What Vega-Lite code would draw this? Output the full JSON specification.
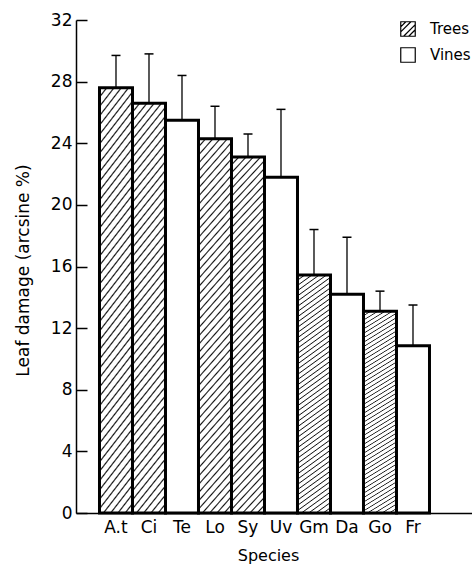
{
  "$schema": "https://vega.github.io/schema/vega-lite/v6.json",
  "width": 396,
  "height": 493,
  "autosize": {"type": "none"},
  "padding": {"left": 76, "top": 20, "right": 0, "bottom": 52},
  "background": "white",
  "config": {
    "view": {"stroke": null},
    "font": "DejaVu Sans",
    "axis": {
      "domainColor": "#000",
      "domainWidth": 1.5,
      "tickColor": "#000",
      "tickWidth": 1.5,
      "labelColor": "#000",
      "labelFont": "DejaVu Sans",
      "labelFontSize": 17,
      "titleColor": "#000",
      "titleFont": "DejaVu Sans",
      "titleFontSize": 17,
      "titleFontWeight": "normal",
      "grid": false
    },
    "legend": {"labelFont": "DejaVu Sans"}
  },
  "data": {
    "values": [
      {"species": "A.t", "type": "Trees", "value": 27.6, "upper": 29.7},
      {"species": "Ci", "type": "Trees", "value": 26.6, "upper": 29.8},
      {"species": "Te", "type": "Vines", "value": 25.5, "upper": 28.4},
      {"species": "Lo", "type": "Trees", "value": 24.3, "upper": 26.4},
      {"species": "Sy", "type": "Trees", "value": 23.1, "upper": 24.6},
      {"species": "Uv", "type": "Vines", "value": 21.8, "upper": 26.2},
      {"species": "Gm", "type": "Trees", "value": 15.45, "upper": 18.4},
      {"species": "Da", "type": "Vines", "value": 14.2, "upper": 17.9},
      {"species": "Go", "type": "Trees", "value": 13.1, "upper": 14.4},
      {"species": "Fr", "type": "Vines", "value": 10.85, "upper": 13.5}
    ]
  },
  "encoding": {
    "x": {
      "field": "species",
      "type": "nominal",
      "sort": null,
      "scale": {"paddingInner": 0, "paddingOuter": 1.408, "align": 0.356},
      "axis": {"title": "Species", "ticks": false, "labelAngle": 0, "labelPadding": 6, "titlePadding": 12, "titleFontSize": 16, "titleX": 192}
    }
  },
  "layer": [
    {
      "mark": {"type": "bar", "stroke": "#000", "strokeWidth": 3},
      "encoding": {
        "y": {
          "field": "value",
          "type": "quantitative",
          "title": "Leaf damage (arcsine %)",
          "scale": {"domain": [0, 32], "nice": false},
          "axis": {"values": [0, 4, 8, 12, 16, 20, 24, 28, 32], "tickSize": -11, "labelPadding": 15, "titleX": -48, "titleY": 250, "titleBaseline": "alphabetic", "titleAngle": -90}
        },
        "fill": {
          "condition": {
            "test": "datum.type === 'Trees'",
            "value": {
              "gradient": "linear", "x1": 0, "y1": 0, "x2": 0.109, "y2": 1.089,
              "stops": [
                {"offset": 0, "color": "#111"}, {"offset": 0.004, "color": "#fff"}, {"offset": 0.016, "color": "#fff"},
                {"offset": 0.02, "color": "#111"}, {"offset": 0.024, "color": "#fff"}, {"offset": 0.036, "color": "#fff"},
                {"offset": 0.04, "color": "#111"}, {"offset": 0.044, "color": "#fff"}, {"offset": 0.056, "color": "#fff"},
                {"offset": 0.06, "color": "#111"}, {"offset": 0.064, "color": "#fff"}, {"offset": 0.076, "color": "#fff"},
                {"offset": 0.08, "color": "#111"}, {"offset": 0.084, "color": "#fff"}, {"offset": 0.096, "color": "#fff"},
                {"offset": 0.1, "color": "#111"}, {"offset": 0.104, "color": "#fff"}, {"offset": 0.116, "color": "#fff"},
                {"offset": 0.12, "color": "#111"}, {"offset": 0.124, "color": "#fff"}, {"offset": 0.136, "color": "#fff"},
                {"offset": 0.14, "color": "#111"}, {"offset": 0.144, "color": "#fff"}, {"offset": 0.156, "color": "#fff"},
                {"offset": 0.16, "color": "#111"}, {"offset": 0.164, "color": "#fff"}, {"offset": 0.176, "color": "#fff"},
                {"offset": 0.18, "color": "#111"}, {"offset": 0.184, "color": "#fff"}, {"offset": 0.196, "color": "#fff"},
                {"offset": 0.2, "color": "#111"}, {"offset": 0.204, "color": "#fff"}, {"offset": 0.216, "color": "#fff"},
                {"offset": 0.22, "color": "#111"}, {"offset": 0.224, "color": "#fff"}, {"offset": 0.236, "color": "#fff"},
                {"offset": 0.24, "color": "#111"}, {"offset": 0.244, "color": "#fff"}, {"offset": 0.256, "color": "#fff"},
                {"offset": 0.26, "color": "#111"}, {"offset": 0.264, "color": "#fff"}, {"offset": 0.276, "color": "#fff"},
                {"offset": 0.28, "color": "#111"}, {"offset": 0.284, "color": "#fff"}, {"offset": 0.296, "color": "#fff"},
                {"offset": 0.3, "color": "#111"}, {"offset": 0.304, "color": "#fff"}, {"offset": 0.316, "color": "#fff"},
                {"offset": 0.32, "color": "#111"}, {"offset": 0.324, "color": "#fff"}, {"offset": 0.336, "color": "#fff"},
                {"offset": 0.34, "color": "#111"}, {"offset": 0.344, "color": "#fff"}, {"offset": 0.356, "color": "#fff"},
                {"offset": 0.36, "color": "#111"}, {"offset": 0.364, "color": "#fff"}, {"offset": 0.376, "color": "#fff"},
                {"offset": 0.38, "color": "#111"}, {"offset": 0.384, "color": "#fff"}, {"offset": 0.396, "color": "#fff"},
                {"offset": 0.4, "color": "#111"}, {"offset": 0.404, "color": "#fff"}, {"offset": 0.416, "color": "#fff"},
                {"offset": 0.42, "color": "#111"}, {"offset": 0.424, "color": "#fff"}, {"offset": 0.436, "color": "#fff"},
                {"offset": 0.44, "color": "#111"}, {"offset": 0.444, "color": "#fff"}, {"offset": 0.456, "color": "#fff"},
                {"offset": 0.46, "color": "#111"}, {"offset": 0.464, "color": "#fff"}, {"offset": 0.476, "color": "#fff"},
                {"offset": 0.48, "color": "#111"}, {"offset": 0.484, "color": "#fff"}, {"offset": 0.496, "color": "#fff"},
                {"offset": 0.5, "color": "#111"}, {"offset": 0.504, "color": "#fff"}, {"offset": 0.516, "color": "#fff"},
                {"offset": 0.52, "color": "#111"}, {"offset": 0.524, "color": "#fff"}, {"offset": 0.536, "color": "#fff"},
                {"offset": 0.54, "color": "#111"}, {"offset": 0.544, "color": "#fff"}, {"offset": 0.556, "color": "#fff"},
                {"offset": 0.56, "color": "#111"}, {"offset": 0.564, "color": "#fff"}, {"offset": 0.576, "color": "#fff"},
                {"offset": 0.58, "color": "#111"}, {"offset": 0.584, "color": "#fff"}, {"offset": 0.596, "color": "#fff"},
                {"offset": 0.6, "color": "#111"}, {"offset": 0.604, "color": "#fff"}, {"offset": 0.616, "color": "#fff"},
                {"offset": 0.62, "color": "#111"}, {"offset": 0.624, "color": "#fff"}, {"offset": 0.636, "color": "#fff"},
                {"offset": 0.64, "color": "#111"}, {"offset": 0.644, "color": "#fff"}, {"offset": 0.656, "color": "#fff"},
                {"offset": 0.66, "color": "#111"}, {"offset": 0.664, "color": "#fff"}, {"offset": 0.676, "color": "#fff"},
                {"offset": 0.68, "color": "#111"}, {"offset": 0.684, "color": "#fff"}, {"offset": 0.696, "color": "#fff"},
                {"offset": 0.7, "color": "#111"}, {"offset": 0.704, "color": "#fff"}, {"offset": 0.716, "color": "#fff"},
                {"offset": 0.72, "color": "#111"}, {"offset": 0.724, "color": "#fff"}, {"offset": 0.736, "color": "#fff"},
                {"offset": 0.74, "color": "#111"}, {"offset": 0.744, "color": "#fff"}, {"offset": 0.756, "color": "#fff"},
                {"offset": 0.76, "color": "#111"}, {"offset": 0.764, "color": "#fff"}, {"offset": 0.776, "color": "#fff"},
                {"offset": 0.78, "color": "#111"}, {"offset": 0.784, "color": "#fff"}, {"offset": 0.796, "color": "#fff"},
                {"offset": 0.8, "color": "#111"}, {"offset": 0.804, "color": "#fff"}, {"offset": 0.816, "color": "#fff"},
                {"offset": 0.82, "color": "#111"}, {"offset": 0.824, "color": "#fff"}, {"offset": 0.836, "color": "#fff"},
                {"offset": 0.84, "color": "#111"}, {"offset": 0.844, "color": "#fff"}, {"offset": 0.856, "color": "#fff"},
                {"offset": 0.86, "color": "#111"}, {"offset": 0.864, "color": "#fff"}, {"offset": 0.876, "color": "#fff"},
                {"offset": 0.88, "color": "#111"}, {"offset": 0.884, "color": "#fff"}, {"offset": 0.896, "color": "#fff"},
                {"offset": 0.9, "color": "#111"}, {"offset": 0.904, "color": "#fff"}, {"offset": 0.916, "color": "#fff"},
                {"offset": 0.92, "color": "#111"}, {"offset": 0.924, "color": "#fff"}, {"offset": 0.936, "color": "#fff"},
                {"offset": 0.94, "color": "#111"}, {"offset": 0.944, "color": "#fff"}, {"offset": 0.956, "color": "#fff"},
                {"offset": 0.96, "color": "#111"}, {"offset": 0.964, "color": "#fff"}, {"offset": 0.976, "color": "#fff"},
                {"offset": 0.98, "color": "#111"}, {"offset": 0.984, "color": "#fff"}, {"offset": 0.996, "color": "#fff"},
                {"offset": 1, "color": "#111"}
              ]
            }
          },
          "value": "#fff"
        }
      }
    },
    {
      "mark": {"type": "rule", "color": "#000", "strokeWidth": 1.3},
      "encoding": {
        "y": {"field": "value", "type": "quantitative", "title": "Leaf damage (arcsine %)"},
        "y2": {"field": "upper"}
      }
    },
    {
      "mark": {"type": "tick", "color": "#000", "thickness": 1.5, "size": 9, "opacity": 1},
      "encoding": {
        "y": {"field": "upper", "type": "quantitative", "title": "Leaf damage (arcsine %)"}
      }
    },
    {
      "mark": {"type": "point", "opacity": 0, "filled": false},
      "encoding": {
        "y": {"field": "value", "type": "quantitative", "title": "Leaf damage (arcsine %)"},
        "shape": {
          "field": "type",
          "type": "nominal",
          "scale": {
            "domain": ["Trees", "Vines"],
            "range": ["M-1,-1H1V1H-1Z M-1,-0.3L-0.3,-1 M-1,0.4L0.4,-1 M-0.6,1L1,-0.6 M0.1,1L1,0.1", "M-1,-1H1V1H-1Z"]
          },
          "legend": {
            "title": null,
            "orient": "none",
            "legendX": 324,
            "legendY": 1,
            "symbolSize": 210,
            "symbolFillColor": "#fff",
            "symbolStrokeColor": "#000",
            "symbolStrokeWidth": 1.2,
            "symbolOpacity": 1,
            "labelFontSize": 15,
            "labelColor": "#000",
            "labelOffset": 14,
            "rowPadding": 6
          }
        }
      }
    }
  ]
}
